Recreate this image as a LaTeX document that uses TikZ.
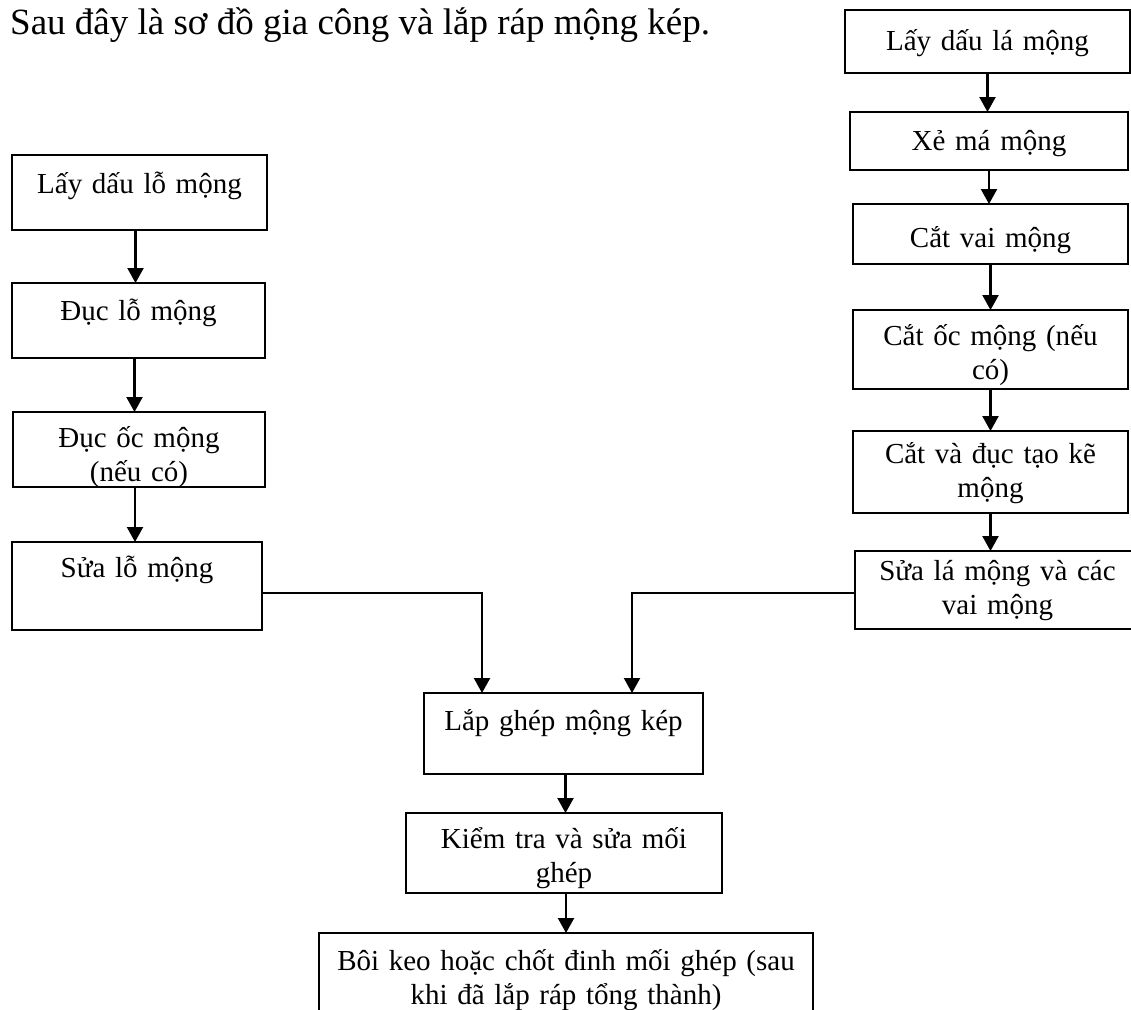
\documentclass[tikz,border=0pt]{standalone}
\usepackage{fontspec}
\setmainfont{Liberation Serif}
\usetikzlibrary{arrows.meta}
\newcommand{\stagefont}{\fontsize{29}{34}\selectfont}
\newcommand{\leadfont}{\fontsize{37}{44}\selectfont}
\tikzset{
    stage/.style={draw, line width=2pt, inner sep=0pt, outer sep=0pt, align=center, anchor=north west, font=\stagefont},
    flow/.style={line width=2.2pt, -{Triangle[width=16pt,length=15pt]}}
}
\begin{document}
\begin{tikzpicture}[x=1pt,y=-1pt]
            \path [use as bounding box, clip] ( 0, 0 ) rectangle ( 1131, 1009 );
            % tiêu đề
            \node [anchor=base west, inner sep=0pt, font=\leadfont] (title) at ( 10, 34 ) {Sau đây là sơ đồ gia công và lắp ráp mộng kép.};

            % nhánh lỗ mộng
            \node [stage, text width=255pt, text height=38pt, text depth=37pt] (l1) at ( 12, 155 ) {Lấy dấu lỗ mộng};
            \node [stage, text width=253pt, text height=37pt, text depth=38pt] (l2) at ( 12, 283 ) {Đục lỗ mộng};
            \node [stage, text width=252pt, text height=35pt, text depth=40pt] (l3) at ( 13, 412 ) {Đục ốc mộng\\(nếu có)};
            \node [stage, text width=250pt, text height=35pt, text depth=53pt] (l4) at ( 12, 542 ) {Sửa lỗ mộng};
            \draw [flow] ([xshift=-4pt]l1.south) -- ([xshift=-4pt]l1.south |- l2.north);
            \draw [flow] ([xshift=-4pt]l2.south) -- ([xshift=-4pt]l2.south |- l3.north);
            \draw [flow] ([xshift=-4pt]l3.south) -- ([xshift=-4pt]l3.south |- l4.north);

            % nhánh lá mộng
            \node [stage, text width=285pt, text height=40pt, text depth=23pt] (r1) at ( 845, 10 ) {Lấy dấu lá mộng};
            \node [stage, text width=278pt, text height=38pt, text depth=20pt] (r2) at ( 850, 112 ) {Xẻ má mộng};
            \node [stage, text width=275pt, text height=43pt, text depth=17pt] (r3) at ( 853, 204 ) {Cắt vai mộng};
            \node [stage, text width=275pt, text height=35pt, text depth=44pt] (r4) at ( 853, 310 ) {Cắt ốc mộng (nếu\\có)};
            \node [stage, text width=275pt, text height=32pt, text depth=50pt] (r5) at ( 853, 431 ) {Cắt và đục tạo kẽ\\mộng};
            \node [stage, text width=285pt, text height=29pt, text depth=49pt] (r6) at ( 855, 551 ) {Sửa lá mộng và các\\vai mộng};
            \draw [flow] (r1.south) -- (r1.south |- r2.north);
            \draw [flow] (r2.south) -- (r2.south |- r3.north);
            \draw [flow] (r3.south) -- (r3.south |- r4.north);
            \draw [flow] (r4.south) -- (r4.south |- r5.north);
            \draw [flow] (r5.south) -- (r5.south |- r6.north);

            % lắp ráp
            \node [stage, text width=279pt, text height=37pt, text depth=44pt] (c1) at ( 424, 693 ) {Lắp ghép mộng kép};
            \node [stage, text width=316pt, text height=35pt, text depth=45pt] (c2) at ( 406, 813 ) {Kiểm tra và sửa mối\\ghép};
            \node [stage, text width=494pt, text height=37pt, text depth=63pt] (c3) at ( 319, 933 ) {Bôi keo hoặc chốt đinh mối ghép (sau\\khi đã lắp ráp tổng thành)};
            \coordinate (lj) at ( 482, 593 );
            \coordinate (rj) at ( 632, 593 );
            \draw [flow] (l4.east |- lj) -- (lj) -- (lj |- c1.north);
            \draw [flow] (r6.west |- rj) -- (rj) -- (rj |- c1.north);
            \draw [flow] ([xshift=2pt]c1.south) -- ([xshift=2pt]c1.south |- c2.north);
            \draw [flow] ([xshift=2pt]c2.south) -- ([xshift=2pt]c2.south |- c3.north);
\end{tikzpicture}
\end{document}
